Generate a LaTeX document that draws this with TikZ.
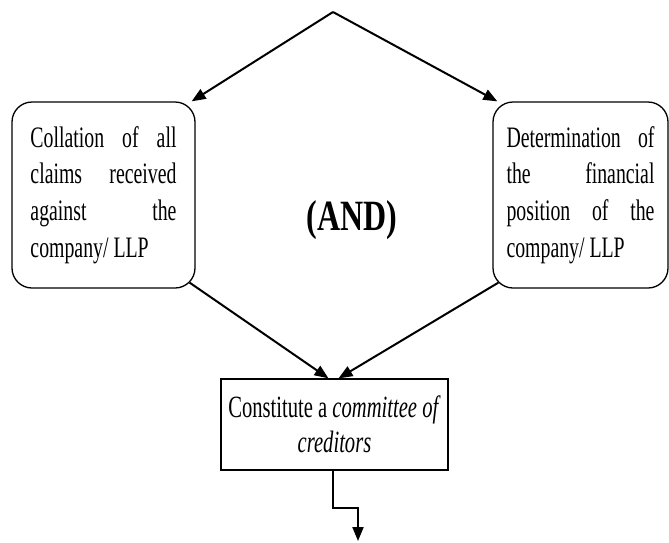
\documentclass[tikz,border=0pt]{standalone}
\usepackage{fontspec}
\setmainfont{Liberation Serif}
\usetikzlibrary{arrows.meta}

% text set a little taller than wide, as in the printed chart
\newcommand{\tallbox}[2][1.5]{\scalebox{1}[#1]{#2}}
\newcommand{\jline}[2][146pt]{\makebox[#1][s]{#2}}

\tikzset{
  roundbox/.style={draw, line width=1.3pt, rounded corners=20pt,
    minimum width=#1, minimum height=186pt, inner sep=0pt},
  plainbox/.style={draw, line width=1.3pt, minimum width=227pt,
    minimum height=91pt, inner sep=0pt},
  flow/.style={line width=2pt, -{Triangle[length=14pt,width=11pt]}},
}

\begin{document}
\begin{tikzpicture}[x=1pt,y=-1pt]
  \useasboundingbox (0,0) rectangle (669,542);

  % the two parallel steps
  \node[roundbox=183pt] (claims) at (103.5,195) {\tallbox{\parbox{146pt}{%
      \fontsize{19.8}{24.5}\selectfont
      \jline{Collation of all}\\
      \jline{claims received}\\
      \jline{against the}\\
      company/ LLP}}};

  \node[roundbox=175pt] (finance) at (580.5,195) {\tallbox{\parbox{148pt}{%
      \fontsize{19.8}{24.5}\selectfont
      \jline[148pt]{Determination of}\\
      \jline[148pt]{the financial}\\
      \jline[148pt]{position of the}\\
      company/ LLP}}};

  \node (and) at (352,220) {\tallbox[1.35]{\fontsize{32}{36}\selectfont\bfseries (AND)}};

  % the joint step
  \node[plainbox] (committee) at (334.5,424.5) {\tallbox{\parbox{227pt}{\centering
      \fontsize{20.6}{23.3}\selectfont
      Constitute a \textit{committee of}\\
      \textit{creditors}}}};

  % connectors
  \coordinate (apex) at (333,12);
  \coordinate (next) at (358,541);

  \draw[flow] (apex) -- ([xshift=-4pt]claims.north east);
  \draw[flow] (apex) -- ([xshift=5pt]finance.north west);
  \draw[flow] ([xshift=-6pt,yshift=6pt]claims.south east) -- ([xshift=-6pt]committee.north);
  \draw[flow] ([xshift=6pt,yshift=6pt]finance.south west) -- ([xshift=4pt]committee.north);
  \draw[flow] ([xshift=-1.5pt]committee.south) -- ++(0,37) -| (next);
\end{tikzpicture}
\end{document}
